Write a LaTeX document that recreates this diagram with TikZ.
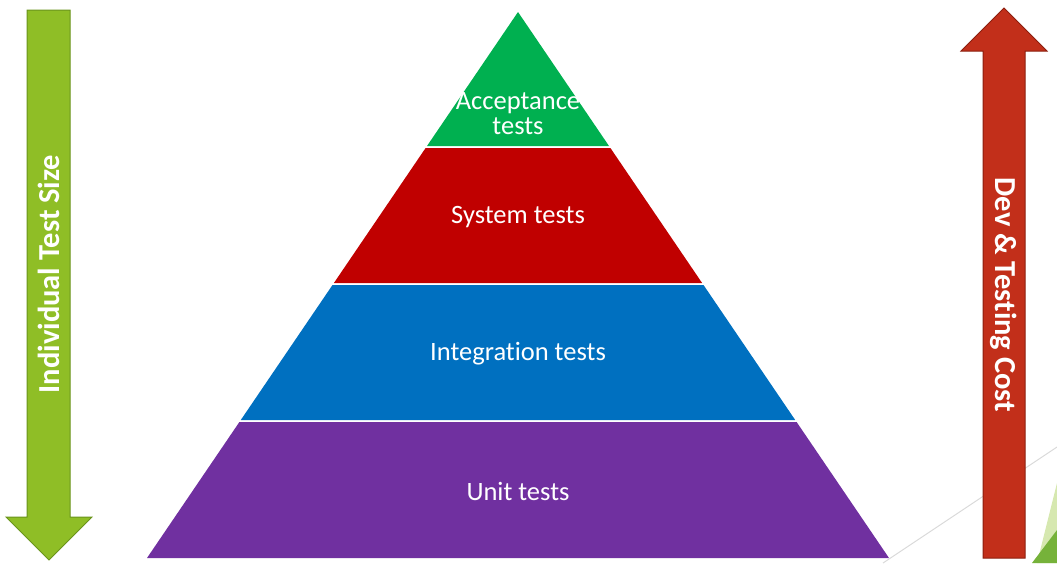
\documentclass[tikz,border=0pt]{standalone}
\usepackage{fontspec}
\setmainfont{Carlito}[Ligatures={NoCommon}]
\usepackage{tikz}
\usetikzlibrary{positioning}

\definecolor{accgreen}{RGB}{0,176,80}
\definecolor{sysred}{RGB}{192,0,0}
\definecolor{intblue}{RGB}{0,112,192}
\definecolor{unitpurple}{RGB}{112,48,160}
\definecolor{sizegreen}{RGB}{143,190,38}
\definecolor{sizegreenline}{RGB}{106,148,28}
\definecolor{costred}{RGB}{194,47,26}
\definecolor{costredline}{RGB}{140,30,14}
\definecolor{decolight}{RGB}{214,232,176}
\definecolor{decodark}{RGB}{118,178,58}

\begin{document}
\begin{tikzpicture}[x=1pt, y=-1pt,
  layertext/.style={text=white, font=\fontsize{26.5}{25}\selectfont, align=center},
  arrowtext/.style={text=white, font=\fontsize{30.5}{32}\selectfont\bfseries}]
\useasboundingbox (0,0) rectangle (1057,563);

% Decoration, lower right corner
\draw[gray!30, line width=1pt] (883,563) -- (1057,447);
\fill[decolight] (1057,483) -- (1037,563) -- (1057,563) -- cycle;
\fill[decodark] (1057,530) -- (1032,563) -- (1057,563) -- cycle;

% Pyramid layers (apex at 518,12 -- base 147:889 at y=558)
\fill[accgreen] (518,12) -- (609,146) -- (427,146) -- cycle;
\fill[sysred] (425.6,148) -- (610.4,148) -- (702.1,283) -- (333.9,283) -- cycle;
\fill[intblue] (332.5,285) -- (703.5,285) -- (795.2,420) -- (240.8,420) -- cycle;
\fill[unitpurple] (239.4,422) -- (796.6,422) -- (889,558) -- (147,558) -- cycle;

% Layer labels
\node[layertext] (acc) at (518,114) {Acceptance\\tests};
\node[layertext] (sys) at (518,217) {System tests};
\node[layertext] (int) at (518,354) {Integration tests};
\node[layertext] (unit) at (518,491) {Unit tests};

% Left arrow (pointing down)
\draw[sizegreenline, fill=sizegreen, line width=1pt]
  (27,10) -- (70,10) -- (70,517) -- (92,517) -- (49,560) -- (6,517) -- (27,517) -- cycle;
\node[arrowtext, rotate=90] (size) at (49,274) {Individual Test Size};

% Right arrow (pointing up)
\draw[costredline, fill=costred, line width=1pt]
  (1004,8) -- (1047,51) -- (1025,51) -- (1025,558) -- (983,558) -- (983,51) -- (961,51) -- cycle;
\node[arrowtext, rotate=-90] (cost) at (1004,295) {Dev \& Testing Cost};
\end{tikzpicture}
\end{document}
